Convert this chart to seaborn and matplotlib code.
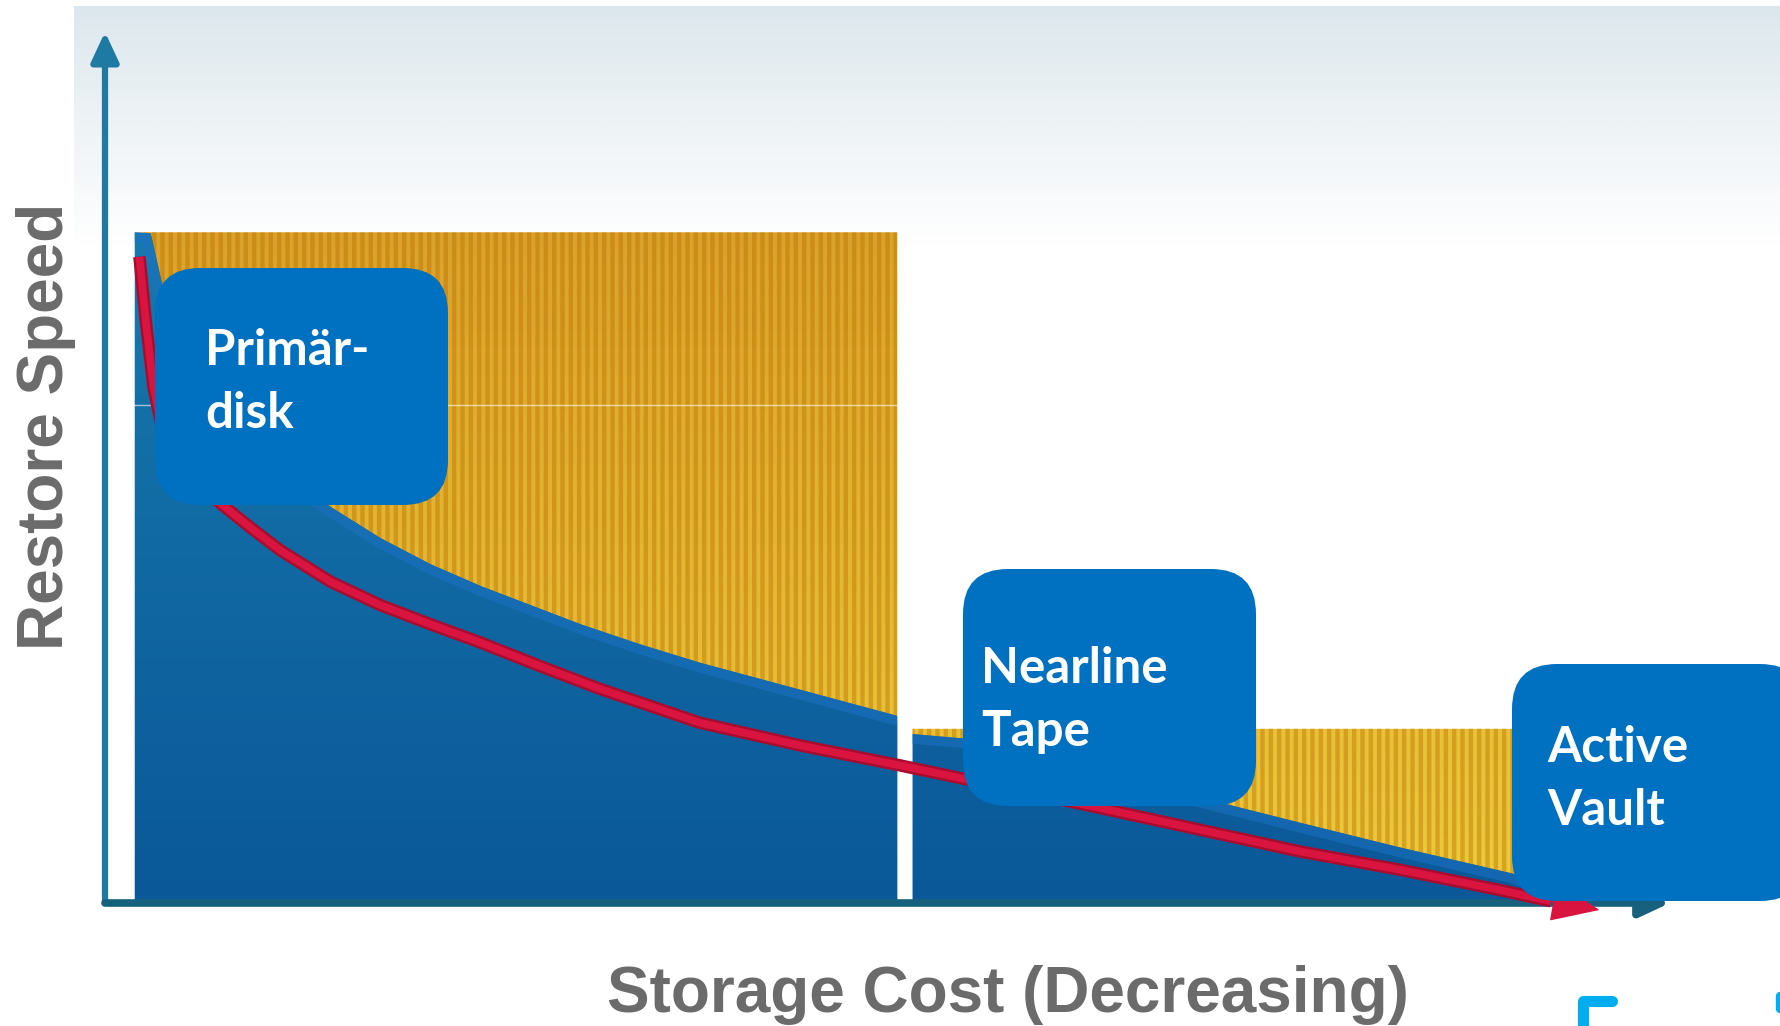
import numpy as np
import matplotlib
matplotlib.use("Agg")
import matplotlib.pyplot as plt
import seaborn as sns
from matplotlib.colors import to_rgb
from matplotlib.patches import FancyBboxPatch
from matplotlib.lines import Line2D

# values: cost index 0-100 (left -> right), restore speed 0-100
disk_cost = [1.9, 2.9, 3.6, 4.8, 6.1, 8.0, 9.9, 12.1, 14.4, 17.6, 20.8, 24.0, 27.2,
             30.4, 34.2, 38.0, 44.4, 50.6]
disk_speed = [77.0, 76.9, 71.3, 64.1, 59.5, 54.9, 51.4, 48.2, 45.5, 41.9, 38.9, 36.4,
              34.2, 32.0, 29.7, 27.6, 24.5, 21.5]
disk_max = 77.0

tape_cost = [51.6, 54.8, 63.6, 70.0, 76.4, 82.7, 89.9, 92.0]
tape_speed = [19.4, 18.9, 15.3, 12.1, 9.2, 6.4, 3.4, 2.1]
tape_max = 20.0

trend_cost = [2.2, 2.6, 3.1, 3.6, 4.7, 5.9, 7.5, 9.3, 11.2, 14.4, 17.6, 20.8, 24.0,
              27.8, 31.6, 38.0, 44.4, 50.8, 55.3, 63.6, 70.0, 76.4, 82.8, 89.1, 92.4]
trend_speed = [74.2, 66.9, 59.2, 54.9, 51.2, 48.2, 45.7, 43.1, 40.5, 36.9, 34.2, 32.0,
               29.9, 27.2, 24.6, 20.7, 18.1, 15.8, 14.1, 10.9, 8.4, 5.9, 3.8, 1.5, 0.2]
trend_tip = (95.5, -0.8)

seam_speed = 57.2
seam_cost = [-2.0, 51.4]

tier_labels = [("Primär-", "disk"), ("Nearline", "Tape"), ("Active", "Vault")]
x_label = "Storage Cost (Decreasing)"
y_label = "Restore Speed"

# layout (pixels, top-left origin)
W, H, DPI = 1781, 1026, 100
box_left = [155, 963, 1512]
box_top = [268, 569, 664]
box_w, box_h = 293, 237
text_left = [205, 981, 1547]
text_base = [365, 683, 762]
line_gap = 63

BOX = "#0070c0"
RED = "#d8143f"
GREY = "#6b6b6b"

sns.set_theme(style="white")
plt.rcParams['font.family'] = ['Liberation Sans', 'DejaVu Sans']
plt.rcParams['hatch.linewidth'] = 3.2

fig = plt.figure(figsize=(W / DPI, H / DPI), dpi=DPI)
fig.patch.set_facecolor("white")


def inch(x, y):
    return x / DPI, (H - y) / DPI


def vgrad(top, bottom, n=256):
    return np.linspace(to_rgb(top), to_rgb(bottom), n)[:, None, :]


# background panel
bg = fig.add_axes([0, 0, 1, 1], zorder=0)
bg.set_axis_off()
panel = np.ones((500, 1, 3))
panel[:60] = vgrad("#dce7ed", "#eef3f6", 60)
panel[60:120] = vgrad("#eef3f6", "#ffffff", 60)
bg.imshow(panel, extent=(74, W, 1006, 6), aspect="auto", interpolation="bilinear")
bg.set_xlim(0, W)
bg.set_ylim(H, 0)

# main chart axes
x0, y0 = 105, 903
x1, y1 = 1670, 32
ax = fig.add_axes([x0 / W, (H - y0) / H, (x1 - x0) / W, (y0 - y1) / H], zorder=1)
ax.patch.set_visible(False)
ax.set_axis_off()

blue_img = vgrad("#1779ad", "#0a5898")
yellow_img = vgrad("#dba22a", "#eecb3c")

for cost, speed, top in [(disk_cost, disk_speed, disk_max), (tape_cost, tape_speed, tape_max)]:
    yel = ax.fill_between(cost, speed, top, color="#e2b52a", lw=0, zorder=1)
    im = ax.imshow(yellow_img, extent=(0, 100, 0, disk_max), aspect="auto",
                   interpolation="bilinear", zorder=1.1)
    im.set_clip_path(yel.get_paths()[0], transform=ax.transData)
    ax.fill_between(cost, speed, top, facecolor="none", edgecolor=(0.72, 0.44, 0.0, 0.42),
                    hatch="||", lw=0, zorder=1.2)
    blu = ax.fill_between(cost, 0, speed, color="#0f66a3", lw=0, zorder=1.3)
    im = ax.imshow(blue_img, extent=(0, 100, 0, disk_max), aspect="auto",
                   interpolation="bilinear", zorder=1.4)
    im.set_clip_path(blu.get_paths()[0], transform=ax.transData)
    # brighter blue rim just under the yellow edge
    rim, = ax.plot(cost, speed, color="#1c72c2", lw=14, alpha=0.55, zorder=1.45)
    rim.set_clip_path(blu.get_paths()[0], transform=ax.transData)

ax.plot(seam_cost, [seam_speed, seam_speed], color="white", lw=1, alpha=0.6,
        zorder=1.5, clip_on=False)

# axis arrows
ax.annotate("", xy=(0, 100), xytext=(0, 0),
            arrowprops=dict(arrowstyle="-|>,head_length=0.9,head_width=0.42", lw=4.5,
                            color="#1f7aa3", mutation_scale=20, shrinkA=0, shrinkB=0),
            zorder=3, annotation_clip=False)
ax.annotate("", xy=(100, 0), xytext=(0, 0),
            arrowprops=dict(arrowstyle="-|>,head_length=0.9,head_width=0.42", lw=5.5,
                            color="#17617f", mutation_scale=20, shrinkA=0, shrinkB=0),
            zorder=3, annotation_clip=False)

# red trend arrow
sns.lineplot(x=trend_cost, y=trend_speed, sort=False, estimator=None, color="#a80c2e",
             lw=9, ax=ax, zorder=4, legend=False)
sns.lineplot(x=trend_cost, y=trend_speed, sort=False, estimator=None, color=RED,
             lw=5.5, ax=ax, zorder=4.1, legend=False)
for line in ax.get_lines()[-2:]:
    line.set_solid_capstyle("butt")
    line.set_solid_joinstyle("round")
    line.set_clip_on(False)
ax.annotate("", xy=trend_tip, xytext=(trend_cost[-1], trend_speed[-1]),
            arrowprops=dict(arrowstyle="-|>,head_length=1.6,head_width=0.65", lw=1,
                            color=RED, mutation_scale=20, shrinkA=0, shrinkB=0),
            zorder=4.2, annotation_clip=False)

ax.set_xlim(0, 100)
ax.set_ylim(0, 100)

# tier boxes
for i, (l1, l2) in enumerate(tier_labels):
    bx, by = inch(box_left[i], box_top[i] + box_h)
    fig.add_artist(FancyBboxPatch((bx, by), box_w / DPI, box_h / DPI,
                                  boxstyle="round,pad=0,rounding_size=0.45",
                                  transform=fig.dpi_scale_trans, facecolor=BOX,
                                  edgecolor="none", zorder=5))
    for j, txt in enumerate([l1, l2]):
        tx, ty = inch(text_left[i], text_base[i] + j * line_gap)
        fig.text(tx, ty, txt, transform=fig.dpi_scale_trans, color="white",
                 fontsize=35.5, fontweight="bold", family=["Lato", "DejaVu Sans"],
                 ha="left", va="baseline", zorder=6)

# axis titles
tx, ty = inch(63, 426)
fig.text(tx, ty, y_label, transform=fig.dpi_scale_trans, rotation=90,
         rotation_mode="anchor", ha="center", va="baseline", fontsize=46,
         fontweight="bold", color=GREY)
tx, ty = inch(1008, 1012)
fig.text(tx, ty, x_label, transform=fig.dpi_scale_trans, ha="center",
         va="baseline", fontsize=46, fontweight="bold", color=GREY)

# cut-off logo fragments bottom right
fig.add_artist(Line2D([15.83, 15.83, 16.12], [0.0, 0.25, 0.25],
                      transform=fig.dpi_scale_trans, color="#00aeef", lw=8,
                      solid_joinstyle="round", zorder=6))
fig.add_artist(Line2D([17.80, 17.80], [0.17, 0.30], transform=fig.dpi_scale_trans,
                      color="#00aeef", lw=6, zorder=6))

fig.savefig("out.png", dpi=DPI)
